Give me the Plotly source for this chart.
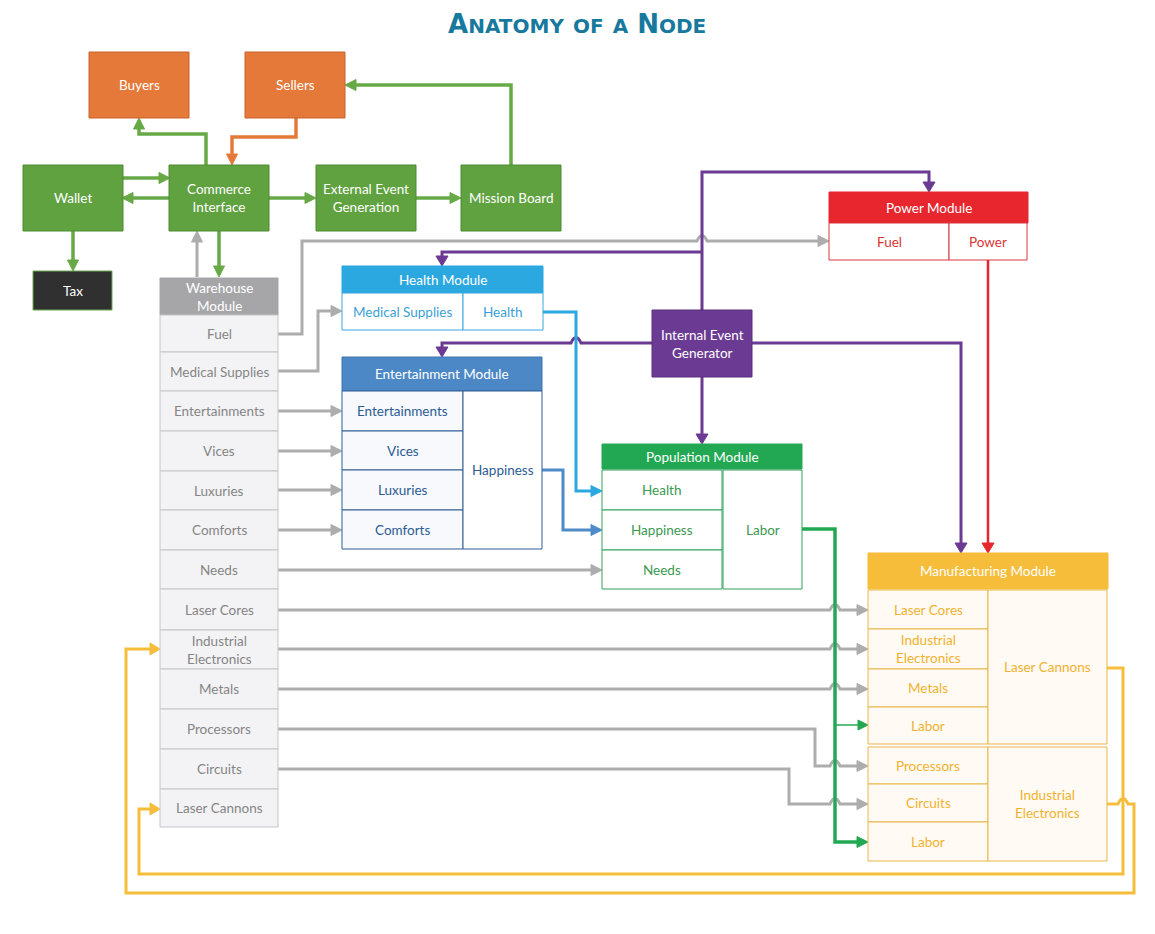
"""
Anatomy of a Node - flow diagram drawn with plotly shapes and annotations
"""
import plotly.graph_objects as go

# Labels
title_text = "Anatomy of a Node"
market_nodes = ["Buyers", "Sellers"]
commerce_nodes = ["Wallet", "Commerce<br>Interface", "External Event<br>Generation", "Mission Board"]
tax_node = "Tax"
warehouse_title = "Warehouse<br>Module"
warehouse_items = ["Fuel", "Medical Supplies", "Entertainments", "Vices", "Luxuries", "Comforts",
                   "Needs", "Laser Cores", "Industrial<br>Electronics", "Metals", "Processors",
                   "Circuits", "Laser Cannons"]
health_title = "Health Module"
health_items = ["Medical Supplies", "Health"]
fun_title = "Entertainment Module"
fun_inputs = ["Entertainments", "Vices", "Luxuries", "Comforts"]
fun_output = "Happiness"
pop_title = "Population Module"
pop_inputs = ["Health", "Happiness", "Needs"]
pop_output = "Labor"
power_title = "Power Module"
power_items = ["Fuel", "Power"]
event_node = "Internal Event<br>Generator"
mfg_title = "Manufacturing Module"
cannon_inputs = ["Laser Cores", "Industrial<br>Electronics", "Metals", "Labor"]
cannon_output = "Laser Cannons"
chip_inputs = ["Processors", "Circuits", "Labor"]
chip_output = "Industrial<br>Electronics"

FONT = "Lato, 'Open Sans', sans-serif"
shapes = []
annotations = []


def rect(x0, y0, x1, y1, fill, line, lw=1):
    shapes.append(dict(type="rect", x0=x0, y0=y0, x1=x1, y1=y1, fillcolor=fill,
                       line=dict(color=line, width=lw), layer="above"))


def label(x, y, text, color, size=13.5):
    annotations.append(dict(x=x, y=y, text=text, showarrow=False, xanchor="center", yanchor="middle",
                            font=dict(family=FONT, size=size, color=color)))


def box(x0, y0, x1, y1, text, fill, line, tcolor, lw=1, size=13.5):
    rect(x0, y0, x1, y1, fill, line, lw)
    label((x0 + x1) / 2, (y0 + y1) / 2, text, tcolor, size)


def seg(xa, ya, xb, yb, hops):
    """Path piece from a to b, with little bridges where a horizontal run crosses a vertical line"""
    out = ""
    if ya == yb:
        step = 1 if xb > xa else -1
        cross = [hx for hx, hy in hops if hy == ya and min(xa, xb) + 6 < hx < max(xa, xb) - 6]
        for h in sorted(cross, key=lambda v: v * step):
            out += " L {} {} Q {} {} {} {}".format(h - 5 * step, ya, h, ya - 11, h + 5 * step, ya)
    return out + " L {} {}".format(xb, yb)


def arrow(pts, color, width=3, head=True, hl=11, hw=5.5, hops=()):
    """Polyline with a triangular head at the last point"""
    pts = [list(p) for p in pts]
    if head:
        (xa, ya), (xb, yb) = pts[-2], pts[-1]
        dx, dy = xb - xa, yb - ya
        n = (dx ** 2 + dy ** 2) ** 0.5
        ux, uy = dx / n, dy / n
        bx, by = xb - ux * hl, yb - uy * hl
        pts[-1] = [bx + ux, by + uy]
    path = "M {} {}".format(*pts[0])
    for a, b in zip(pts[:-1], pts[1:]):
        path += seg(a[0], a[1], b[0], b[1], hops)
    shapes.append(dict(type="path", path=path, line=dict(color=color, width=width), layer="above"))
    if head:
        px, py = -uy, ux
        tri = "M {} {} L {} {} L {} {} Z".format(xb, yb, bx + px * hw, by + py * hw, bx - px * hw, by - py * hw)
        shapes.append(dict(type="path", path=tri, fillcolor=color, line=dict(color=color, width=1),
                           layer="above"))


# Colours
GREEN = "#67a947"
ORANGE = "#e5793a"
GRAY = "#adadad"
PURPLE = "#6b3a92"
RED = "#e8262e"
SKY = "#2ba8e0"
STEEL = "#4f8bc9"
POP = "#22a853"
GOLD = "#f6bd3b"

# ---------------- connectors ----------------
# commerce block
arrow([(206, 165), (206, 134), (139, 134), (139, 118)], GREEN, 3.5)
arrow([(296, 118), (296, 137), (232, 137), (232, 165)], ORANGE, 3.5)
arrow([(122, 178), (170, 178)], GREEN, 3.5)
arrow([(170, 198), (122, 198)], GREEN, 3.5)
arrow([(268, 198), (316, 198)], GREEN, 3.5)
arrow([(415, 198), (461, 198)], GREEN, 3.5)
arrow([(511, 165), (511, 85), (345, 85)], GREEN, 3.5)
arrow([(73, 231), (73, 271)], GREEN, 3.5)
arrow([(219, 231), (219, 277)], GREEN, 3.5)
arrow([(197, 277), (197, 231)], GRAY, 3)

# warehouse outputs
arrow([(278, 334), (302, 334), (302, 241), (829, 241)], GRAY, 3, hops=[(702, 241)])
arrow([(278, 371), (318, 371), (318, 311), (342, 311)], GRAY, 3)
for y in [411, 451, 490, 530]:
    arrow([(278, y), (342, y)], GRAY, 3)
arrow([(278, 570), (602, 570)], GRAY, 3)
for y in [610, 649, 689]:
    arrow([(278, y), (868, y)], GRAY, 3, hops=[(835, y)])
arrow([(278, 729), (815, 729), (815, 766), (868, 766)], GRAY, 3, hops=[(835, 766)])
arrow([(278, 769), (789, 769), (789, 804), (868, 804)], GRAY, 3, hops=[(835, 804)])

# internal event generator
arrow([(702, 310), (702, 172), (929, 172), (929, 192)], PURPLE, 3, hl=10, hw=6)
arrow([(702, 252), (442, 252), (442, 266)], PURPLE, 3, hl=10, hw=6)
arrow([(652, 343), (442, 343), (442, 357)], PURPLE, 3, hl=10, hw=6, hops=[(576, 343)])
arrow([(752, 343), (961, 343), (961, 553)], PURPLE, 3, hl=10, hw=6)
arrow([(702, 377), (702, 444)], PURPLE, 3, hl=10, hw=6)

# power, health, happiness, labor
arrow([(988, 260), (988, 553)], RED, 2.5, hl=10, hw=6)
arrow([(543, 312), (576, 312), (576, 491), (602, 491)], SKY, 3)
arrow([(542, 470), (563, 470), (563, 530), (602, 530)], STEEL, 3)
arrow([(802, 529), (835, 529), (835, 842), (868, 842)], POP, 3.5)
arrow([(835, 725), (868, 725)], POP, 1.5, hl=10, hw=5)

# manufactured goods back to warehouse
arrow([(1107, 668), (1123, 668), (1123, 874), (139, 874), (139, 809), (160, 809)], GOLD, 3, hl=10, hw=6)
arrow([(1107, 804), (1134, 804), (1134, 893), (126, 893), (126, 649), (160, 649)], GOLD, 3, hl=10, hw=6,
      hops=[(1123, 804)])

# ---------------- boxes ----------------
for x0, text in zip([89, 245], market_nodes):
    box(x0, 52, x0 + 100, 118, text, ORANGE, "#c8622a", "white")
for x0, text in zip([23, 169, 316, 461], commerce_nodes):
    box(x0, 165, x0 + 100, 231, text, "#5fa23f", "#4d8a31", "white")
box(33, 271, 112, 310, tax_node, "#303030", "#6aa84f", "white")

# warehouse
box(160, 278, 278, 315, warehouse_title, "#a6a6a9", "#a6a6a9", "white")
wh_edges = [315, 352, 391, 431, 471, 510, 550, 589, 630, 669, 709, 749, 789, 827]
for i, text in enumerate(warehouse_items):
    box(160, wh_edges[i], 278, wh_edges[i + 1], text, "#f3f3f5", "#c5c5c8", "#858585")

# health
box(342, 266, 543, 293, health_title, SKY, SKY, "white")
box(342, 293, 463, 330, health_items[0], "white", "#3aa6df", "#3b9fd6")
box(463, 293, 543, 330, health_items[1], "white", "#3aa6df", "#3b9fd6")

# entertainment
box(342, 357, 542, 391, fun_title, "#4d88c6", "#3f74b0", "white")
fun_edges = [391, 431, 470, 510, 549]
for i, text in enumerate(fun_inputs):
    box(342, fun_edges[i], 463, fun_edges[i + 1], text, "#f7f9fc", "#2e5e95", "#2c5b94")
box(463, 391, 542, 549, fun_output, "white", "#2e5e95", "#2c5b94")

# population
box(602, 444, 802, 469, pop_title, POP, POP, "white")
pop_edges = [470, 510, 550, 589]
for i, text in enumerate(pop_inputs):
    box(602, pop_edges[i], 722, pop_edges[i + 1], text, "white", "#2fa35a", "#3a9a50")
box(723, 470, 802, 589, pop_output, "white", "#2fa35a", "#3a9a50")

# power
box(829, 192, 1028, 223, power_title, RED, RED, "white")
box(829, 223, 949, 260, power_items[0], "white", "#d9363c", "#d93535")
box(949, 223, 1027, 260, power_items[1], "white", "#d9363c", "#d93535")

# internal event generator
box(652, 310, 752, 377, event_node, "#6b3a92", "#5a2f7d", "white")

# manufacturing
box(868, 553, 1108, 589, mfg_title, GOLD, GOLD, "white")
cannon_edges = [590, 629, 669, 707, 744]
for i, text in enumerate(cannon_inputs):
    box(868, cannon_edges[i], 988, cannon_edges[i + 1], text, "#fffaf3", "#e9b64a", "#f0b22f")
box(988, 590, 1107, 744, cannon_output, "#fffaf3", "#e9b64a", "#f0b22f")
chip_edges = [747, 784, 822, 861]
for i, text in enumerate(chip_inputs):
    box(868, chip_edges[i], 988, chip_edges[i + 1], text, "#fffaf3", "#e9b64a", "#f0b22f")
box(988, 747, 1107, 861, chip_output, "#fffaf3", "#e9b64a", "#f0b22f")

# page border on the right
shapes.append(dict(type="line", x0=1152, y0=8, x1=1152, y1=934, line=dict(color="#a0a0a0", width=1.5)))

# title in small caps: capitals stay large, lowercase letters become small capitals
title_html = "".join(c if not c.islower() else "<span style='font-size:20px'>{}</span>".format(c.upper())
                     for c in title_text)
annotations.append(dict(x=577, y=24, text="<b>" + title_html + "</b>", showarrow=False,
                        xanchor="center", yanchor="middle",
                        font=dict(family="DejaVu Sans", size=26, color="#17799e")))

fig = go.Figure()
# the page body has an 8 px margin, so the axes start at 8 to keep page pixels and data units equal
fig.update_layout(
    width=1147, height=926,
    margin=dict(l=0, r=0, t=0, b=0),
    paper_bgcolor="white", plot_bgcolor="white",
    xaxis=dict(range=[8, 1155], visible=False, fixedrange=True),
    yaxis=dict(range=[934, 8], visible=False, fixedrange=True),
    shapes=shapes, annotations=annotations, showlegend=False,
)
fig.write_html("out.html")
